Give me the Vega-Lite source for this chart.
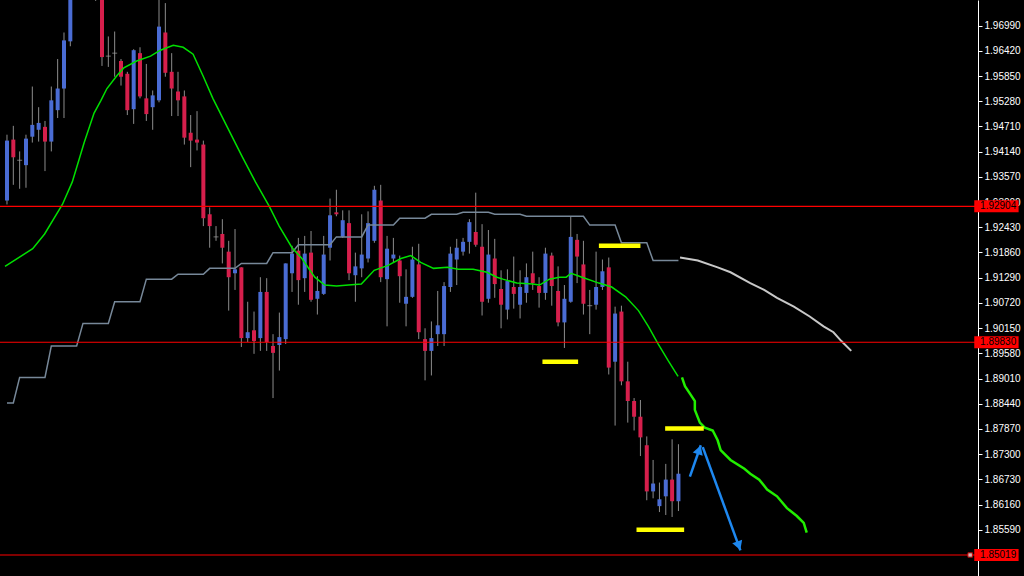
{
  "$schema": "https://vega.github.io/schema/vega-lite/v6.json",
  "width": 978,
  "height": 576,
  "autosize": {"type": "none"},
  "padding": {"left": 0, "top": 0, "right": 46, "bottom": 0},
  "background": "#000000",
  "config": {
    "view": {"stroke": null},
    "axisY": {"labelOverlap": false, "tickCount": 40}
  },
  "datasets": {
    "candles": [
      {"i":0,"o":1.93035,"h":1.94524,"l":1.92946,"c":1.94390,"s":1.88457},
      {"i":1,"o":1.94413,"h":1.94724,"l":1.93390,"c":1.94013,"s":1.88457},
      {"i":2,"o":1.93946,"h":1.94146,"l":1.93301,"c":1.93946,"s":1.89035},
      {"i":3,"o":1.93835,"h":1.94524,"l":1.93324,"c":1.94435,"s":1.89035},
      {"i":4,"o":1.94479,"h":1.95613,"l":1.94346,"c":1.94746,"s":1.89035},
      {"i":5,"o":1.94635,"h":1.95146,"l":1.94368,"c":1.94790,"s":1.89035},
      {"i":6,"o":1.94701,"h":1.94835,"l":1.93701,"c":1.94368,"s":1.89035},
      {"i":7,"o":1.94368,"h":1.95613,"l":1.94146,"c":1.95301,"s":1.89746},
      {"i":8,"o":1.95079,"h":1.96235,"l":1.94901,"c":1.95568,"s":1.89746},
      {"i":9,"o":1.95568,"h":1.96835,"l":1.94901,"c":1.96657,"s":1.89746},
      {"i":10,"o":1.96635,"h":1.98000,"l":1.96524,"c":1.97800,"s":1.89746},
      {"i":11,"o":1.97800,"h":1.98350,"l":1.97600,"c":1.98200,"s":1.89746},
      {"i":12,"o":1.98200,"h":1.98500,"l":1.97700,"c":1.97900,"s":1.90257},
      {"i":13,"o":1.97900,"h":1.98300,"l":1.97650,"c":1.98100,"s":1.90257},
      {"i":14,"o":1.98100,"h":1.98250,"l":1.97550,"c":1.97700,"s":1.90257},
      {"i":15,"o":1.97700,"h":1.97900,"l":1.96079,"c":1.96279,"s":1.90257},
      {"i":16,"o":1.96301,"h":1.96746,"l":1.96057,"c":1.96301,"s":1.90257},
      {"i":17,"o":1.96368,"h":1.96857,"l":1.95835,"c":1.96368,"s":1.90746},
      {"i":18,"o":1.96190,"h":1.96235,"l":1.95635,"c":1.95835,"s":1.90746},
      {"i":19,"o":1.95901,"h":1.95946,"l":1.94968,"c":1.95079,"s":1.90746},
      {"i":20,"o":1.95101,"h":1.96457,"l":1.94768,"c":1.96435,"s":1.90746},
      {"i":21,"o":1.96368,"h":1.96501,"l":1.95346,"c":1.95390,"s":1.90746},
      {"i":22,"o":1.95346,"h":1.96124,"l":1.94835,"c":1.94990,"s":1.91257},
      {"i":23,"o":1.95146,"h":1.95524,"l":1.94635,"c":1.95413,"s":1.91257},
      {"i":24,"o":1.95301,"h":1.97600,"l":1.95257,"c":1.96968,"s":1.91257},
      {"i":25,"o":1.96835,"h":1.97500,"l":1.95835,"c":1.95924,"s":1.91257},
      {"i":26,"o":1.95946,"h":1.96368,"l":1.94946,"c":1.95568,"s":1.91257},
      {"i":27,"o":1.95501,"h":1.95946,"l":1.94946,"c":1.95301,"s":1.91368},
      {"i":28,"o":1.95390,"h":1.95524,"l":1.94301,"c":1.94457,"s":1.91368},
      {"i":29,"o":1.94568,"h":1.94968,"l":1.93790,"c":1.94390,"s":1.91368},
      {"i":30,"o":1.94413,"h":1.95057,"l":1.94168,"c":1.94346,"s":1.91368},
      {"i":31,"o":1.94301,"h":1.94390,"l":1.92457,"c":1.92635,"s":1.91368},
      {"i":32,"o":1.92724,"h":1.92879,"l":1.91968,"c":1.92457,"s":1.91501},
      {"i":33,"o":1.92213,"h":1.92457,"l":1.92124,"c":1.92213,"s":1.91501},
      {"i":34,"o":1.92279,"h":1.92613,"l":1.91613,"c":1.91968,"s":1.91501},
      {"i":35,"o":1.91879,"h":1.92124,"l":1.90546,"c":1.91301,"s":1.91501},
      {"i":36,"o":1.91390,"h":1.92390,"l":1.91013,"c":1.91479,"s":1.91501},
      {"i":37,"o":1.91524,"h":1.91524,"l":1.89724,"c":1.89924,"s":1.91613},
      {"i":38,"o":1.89924,"h":1.90746,"l":1.89835,"c":1.90057,"s":1.91613},
      {"i":39,"o":1.90101,"h":1.90524,"l":1.89568,"c":1.89857,"s":1.91613},
      {"i":40,"o":1.89924,"h":1.91301,"l":1.89635,"c":1.90968,"s":1.91613},
      {"i":41,"o":1.90968,"h":1.91279,"l":1.89635,"c":1.89835,"s":1.91613},
      {"i":42,"o":1.89746,"h":1.90013,"l":1.88568,"c":1.89590,"s":1.91857},
      {"i":43,"o":1.89768,"h":1.90501,"l":1.89190,"c":1.89946,"s":1.91857},
      {"i":44,"o":1.89901,"h":1.91613,"l":1.89790,"c":1.91613,"s":1.91857},
      {"i":45,"o":1.91390,"h":1.92013,"l":1.90968,"c":1.91835,"s":1.91857},
      {"i":46,"o":1.91901,"h":1.92190,"l":1.90679,"c":1.91235,"s":1.92035},
      {"i":47,"o":1.91279,"h":1.92235,"l":1.90968,"c":1.91835,"s":1.92035},
      {"i":48,"o":1.91857,"h":1.92346,"l":1.90746,"c":1.90790,"s":1.92035},
      {"i":49,"o":1.90813,"h":1.91324,"l":1.90457,"c":1.90990,"s":1.92035},
      {"i":50,"o":1.90924,"h":1.92235,"l":1.90901,"c":1.91813,"s":1.92035},
      {"i":51,"o":1.91968,"h":1.93079,"l":1.91679,"c":1.92701,"s":1.92035},
      {"i":52,"o":1.92768,"h":1.93279,"l":1.92679,"c":1.92724,"s":1.92213},
      {"i":53,"o":1.92213,"h":1.92813,"l":1.92190,"c":1.92590,"s":1.92213},
      {"i":54,"o":1.92524,"h":1.92813,"l":1.91235,"c":1.91390,"s":1.92213},
      {"i":55,"o":1.91346,"h":1.91857,"l":1.90746,"c":1.91546,"s":1.92213},
      {"i":56,"o":1.91501,"h":1.92724,"l":1.91301,"c":1.91813,"s":1.92213},
      {"i":57,"o":1.91724,"h":1.92790,"l":1.91635,"c":1.92524,"s":1.92479},
      {"i":58,"o":1.92124,"h":1.93368,"l":1.92079,"c":1.93279,"s":1.92479},
      {"i":59,"o":1.93035,"h":1.93390,"l":1.91190,"c":1.91301,"s":1.92479},
      {"i":60,"o":1.91257,"h":1.92235,"l":1.90190,"c":1.91946,"s":1.92479},
      {"i":61,"o":1.91724,"h":1.92190,"l":1.91635,"c":1.91813,"s":1.92479},
      {"i":62,"o":1.91679,"h":1.91790,"l":1.90724,"c":1.91324,"s":1.92635},
      {"i":63,"o":1.90701,"h":1.91479,"l":1.90190,"c":1.90857,"s":1.92635},
      {"i":64,"o":1.90857,"h":1.91990,"l":1.90835,"c":1.91701,"s":1.92635},
      {"i":65,"o":1.91590,"h":1.92057,"l":1.89901,"c":1.90057,"s":1.92635},
      {"i":66,"o":1.89901,"h":1.90146,"l":1.88968,"c":1.89635,"s":1.92635},
      {"i":67,"o":1.89635,"h":1.90301,"l":1.89079,"c":1.89924,"s":1.92724},
      {"i":68,"o":1.90013,"h":1.90990,"l":1.89746,"c":1.90213,"s":1.92724},
      {"i":69,"o":1.90013,"h":1.91190,"l":1.89746,"c":1.91101,"s":1.92724},
      {"i":70,"o":1.91079,"h":1.91990,"l":1.90968,"c":1.91835,"s":1.92724},
      {"i":71,"o":1.91701,"h":1.92168,"l":1.91124,"c":1.91968,"s":1.92724},
      {"i":72,"o":1.91879,"h":1.92190,"l":1.91790,"c":1.92101,"s":1.92768},
      {"i":73,"o":1.92101,"h":1.92613,"l":1.91835,"c":1.92546,"s":1.92768},
      {"i":74,"o":1.92324,"h":1.93213,"l":1.91990,"c":1.92035,"s":1.92768},
      {"i":75,"o":1.91990,"h":1.92501,"l":1.90435,"c":1.90746,"s":1.92768},
      {"i":76,"o":1.90813,"h":1.92368,"l":1.90724,"c":1.91813,"s":1.92768},
      {"i":77,"o":1.91724,"h":1.92168,"l":1.90835,"c":1.91146,"s":1.92724},
      {"i":78,"o":1.91035,"h":1.91457,"l":1.90146,"c":1.90679,"s":1.92724},
      {"i":79,"o":1.90568,"h":1.91479,"l":1.90346,"c":1.91213,"s":1.92724},
      {"i":80,"o":1.91079,"h":1.91768,"l":1.90590,"c":1.90924,"s":1.92724},
      {"i":81,"o":1.90679,"h":1.91457,"l":1.90368,"c":1.91079,"s":1.92724},
      {"i":82,"o":1.90946,"h":1.91613,"l":1.90724,"c":1.91301,"s":1.92679},
      {"i":83,"o":1.91390,"h":1.91879,"l":1.91013,"c":1.91168,"s":1.92679},
      {"i":84,"o":1.91101,"h":1.91301,"l":1.90613,"c":1.90946,"s":1.92679},
      {"i":85,"o":1.90946,"h":1.91968,"l":1.90790,"c":1.91835,"s":1.92679},
      {"i":86,"o":1.91790,"h":1.91857,"l":1.90657,"c":1.91101,"s":1.92679},
      {"i":87,"o":1.90990,"h":1.91546,"l":1.90190,"c":1.90279,"s":1.92679},
      {"i":88,"o":1.90279,"h":1.91124,"l":1.89701,"c":1.90813,"s":1.92679},
      {"i":89,"o":1.90746,"h":1.92679,"l":1.90724,"c":1.92213,"s":1.92679},
      {"i":90,"o":1.92146,"h":1.92279,"l":1.91168,"c":1.91768,"s":1.92679},
      {"i":91,"o":1.91590,"h":1.92124,"l":1.90457,"c":1.90701,"s":1.92679},
      {"i":92,"o":1.90657,"h":1.91013,"l":1.90013,"c":1.90657,"s":1.92479},
      {"i":93,"o":1.90679,"h":1.91879,"l":1.90568,"c":1.91079,"s":1.92479},
      {"i":94,"o":1.91079,"h":1.91701,"l":1.91013,"c":1.91435,"s":1.92479},
      {"i":95,"o":1.91524,"h":1.91746,"l":1.89101,"c":1.89257,"s":1.92479},
      {"i":96,"o":1.89390,"h":1.90635,"l":1.87946,"c":1.90479,"s":1.92479},
      {"i":97,"o":1.90524,"h":1.90657,"l":1.88857,"c":1.88946,"s":1.92079},
      {"i":98,"o":1.88946,"h":1.89390,"l":1.88013,"c":1.88501,"s":1.92079},
      {"i":99,"o":1.88501,"h":1.88568,"l":1.87835,"c":1.88146,"s":1.92079},
      {"i":100,"o":1.88146,"h":1.88524,"l":1.87257,"c":1.87679,"s":1.92079},
      {"i":101,"o":1.87501,"h":1.87701,"l":1.86257,"c":1.86457,"s":1.92079},
      {"i":102,"o":1.86457,"h":1.87168,"l":1.86301,"c":1.86635,"s":1.91679},
      {"i":103,"o":1.86124,"h":1.86657,"l":1.85990,"c":1.86279,"s":1.91679},
      {"i":104,"o":1.86346,"h":1.87079,"l":1.85924,"c":1.86724,"s":1.91679},
      {"i":105,"o":1.86724,"h":1.87635,"l":1.85879,"c":1.86235,"s":1.91679},
      {"i":106,"o":1.86235,"h":1.87524,"l":1.86013,"c":1.86857,"s":1.91679}
    ],
    "ma": [
      {"i":-0.31,"v":1.91546},{"i":4.06,"v":1.91946},{"i":5.94,"v":1.92279},{"i":8.75,"v":1.92946},
      {"i":10.31,"v":1.93457},{"i":12.19,"v":1.94346},{"i":13.75,"v":1.95013},{"i":14.84,"v":1.95301},
      {"i":15.78,"v":1.95568},{"i":17.34,"v":1.95857},{"i":18.44,"v":1.96035},{"i":20.47,"v":1.96190},
      {"i":22.66,"v":1.96301},{"i":24.22,"v":1.96435},{"i":26.25,"v":1.96546},{"i":27.81,"v":1.96501},
      {"i":29.38,"v":1.96346},{"i":30.94,"v":1.95857},{"i":32.5,"v":1.95346},{"i":34.84,"v":1.94679},
      {"i":37.19,"v":1.94013},{"i":39.22,"v":1.93457},{"i":41.41,"v":1.92901},{"i":42.97,"v":1.92457},
      {"i":45.0,"v":1.91968},{"i":46.56,"v":1.91724},{"i":48.59,"v":1.91301},{"i":50.16,"v":1.91124},
      {"i":52.03,"v":1.91101},{"i":53.91,"v":1.91124},{"i":55.94,"v":1.91146},{"i":57.97,"v":1.91457},
      {"i":60.16,"v":1.91568},{"i":62.19,"v":1.91724},{"i":63.75,"v":1.91790},{"i":65.31,"v":1.91635},
      {"i":67.34,"v":1.91501},{"i":69.53,"v":1.91524},{"i":71.25,"v":1.91479},{"i":73.59,"v":1.91479},
      {"i":75.78,"v":1.91413},{"i":77.34,"v":1.91301},{"i":78.28,"v":1.91257},{"i":80.47,"v":1.91168},
      {"i":82.97,"v":1.91146},{"i":84.06,"v":1.91124},{"i":85.63,"v":1.91257},{"i":87.19,"v":1.91301},
      {"i":88.28,"v":1.91301},{"i":89.06,"v":1.91390},{"i":90.78,"v":1.91301},{"i":93.44,"v":1.91168},
      {"i":95.47,"v":1.91079},{"i":97.66,"v":1.90857},{"i":99.69,"v":1.90546},{"i":101.25,"v":1.90190},
      {"i":102.81,"v":1.89790},{"i":104.38,"v":1.89413},{"i":105.94,"v":1.89057}
    ],
    "maForecast": [
      {"i":106.56,"v":1.89035},{"i":107.03,"v":1.88835},{"i":107.97,"v":1.88635},{"i":108.59,"v":1.88501},
      {"i":108.59,"v":1.88301},{"i":109.38,"v":1.88013},{"i":110.16,"v":1.87901},{"i":111.41,"v":1.87835},
      {"i":112.19,"v":1.87613},{"i":112.66,"v":1.87390},{"i":114.22,"v":1.87168},{"i":116.41,"v":1.86968},
      {"i":117.34,"v":1.86857},{"i":118.75,"v":1.86724},{"i":120.0,"v":1.86501},{"i":121.56,"v":1.86346},
      {"i":123.13,"v":1.86079},{"i":124.69,"v":1.85901},{"i":125.78,"v":1.85746},{"i":126.25,"v":1.85524}
    ],
    "stopForecast": [
      {"i":106.25,"v":1.91746},{"i":109.06,"v":1.91679},{"i":112.19,"v":1.91524},{"i":114.22,"v":1.91413},
      {"i":117.34,"v":1.91168},{"i":119.53,"v":1.91013},{"i":121.56,"v":1.90835},{"i":124.22,"v":1.90635},
      {"i":126.72,"v":1.90413},{"i":128.91,"v":1.90190},{"i":130.47,"v":1.90057},{"i":131.72,"v":1.89857},
      {"i":133.28,"v":1.89635}
    ],
    "levels": [
      {"price":1.92904,"label":"1.92904"},
      {"price":1.89830,"label":"1.89830"},
      {"price":1.85019,"label":"1.85019"}
    ],
    "zones": [
      {"a":93.44,"b":100.0,"price":1.92013},
      {"a":84.53,"b":90.16,"price":1.89390},
      {"a":103.9,"b":110.0,"price":1.87879},
      {"a":99.38,"b":106.9,"price":1.85590}
    ],
    "arrows": [
      {"a":107.81,"pa":1.86790,"b":109.53,"pb":1.87501,"hx":109.28,"hy":1.87397,"ang":19},
      {"a":109.84,"pa":1.87457,"b":115.78,"pb":1.85124,"hx":115.52,"hy":1.85228,"ang":160}
    ]
  },
  "layer": [
    {
      "data": {"name": "candles"},
      "mark": {"type": "rule", "color": "#8c8c8c", "strokeWidth": 1, "clip": true},
      "encoding": {
        "x": {"field": "i", "type": "quantitative", "scale": {"domain": [-0.3125, 152.5], "nice": false, "zero": false}, "axis": null},
        "y": {"field": "l", "type": "quantitative", "scale": {"domain": [1.84657, 1.97457], "nice": false, "zero": false},
          "axis": {
            "orient": "right", "title": null, "grid": false, "tickCount": 40,
            "values": [1.9699, 1.9642, 1.9585, 1.9528, 1.9471, 1.9414, 1.9357, 1.93, 1.9243, 1.9186, 1.9129, 1.9072, 1.9015, 1.8958, 1.8901, 1.8844, 1.8787, 1.873, 1.8673, 1.8616, 1.8559],
            "format": ".5f", "labelColor": "#ffffff", "labelFont": "Liberation Sans", "labelFontSize": 10,
            "labelOverlap": false, "labelBound": false, "labelFlush": false, "labelPadding": 2,
            "tickColor": "#ffffff", "tickSize": 4, "domainColor": "#ffffff"
          }},
        "y2": {"field": "h"}
      }
    },
    {
      "data": {"name": "candles"},
      "mark": {"type": "bar", "size": 4, "clip": true},
      "encoding": {
        "x": {"field": "i", "type": "quantitative"},
        "y": {"field": "o", "type": "quantitative"},
        "y2": {"field": "c"},
        "color": {"condition": {"test": "datum.c > datum.o", "value": "#4a6cd4"}, "value": "#d61f4c"}
      }
    },
    {
      "data": {"name": "candles"},
      "transform": [{"filter": "datum.o == datum.c"}],
      "mark": {"type": "tick", "orient": "horizontal", "size": 5, "thickness": 1, "color": "#a0a0a0", "clip": true},
      "encoding": {
        "x": {"field": "i", "type": "quantitative"},
        "y": {"field": "o", "type": "quantitative"}
      }
    },
    {
      "data": {"name": "candles"},
      "mark": {"type": "line", "color": "#778899", "strokeWidth": 1.5, "clip": true},
      "encoding": {
        "x": {"field": "i", "type": "quantitative"},
        "y": {"field": "s", "type": "quantitative"}
      }
    },
    {
      "data": {"name": "stopForecast"},
      "mark": {"type": "line", "color": "#c8c8c8", "strokeWidth": 2, "clip": true},
      "encoding": {
        "x": {"field": "i", "type": "quantitative"},
        "y": {"field": "v", "type": "quantitative"}
      }
    },
    {
      "data": {"name": "ma"},
      "mark": {"type": "line", "color": "#00e000", "strokeWidth": 1.5, "clip": true},
      "encoding": {
        "x": {"field": "i", "type": "quantitative"},
        "y": {"field": "v", "type": "quantitative"}
      }
    },
    {
      "data": {"name": "maForecast"},
      "mark": {"type": "line", "color": "#22ee00", "strokeWidth": 2.5, "clip": true},
      "encoding": {
        "x": {"field": "i", "type": "quantitative"},
        "y": {"field": "v", "type": "quantitative"}
      }
    },
    {
      "data": {"name": "levels"},
      "mark": {"type": "rule", "color": "#ff0000", "strokeWidth": 1.2},
      "encoding": {
        "y": {"field": "price", "type": "quantitative"}
      }
    },
    {
      "data": {"name": "zones"},
      "mark": {"type": "rule", "color": "#ffff00", "strokeWidth": 4.5},
      "encoding": {
        "x": {"field": "a", "type": "quantitative"},
        "x2": {"field": "b"},
        "y": {"field": "price", "type": "quantitative"}
      }
    },
    {
      "data": {"name": "arrows"},
      "mark": {"type": "rule", "color": "#1e88f0", "strokeWidth": 2.5},
      "encoding": {
        "x": {"field": "a", "type": "quantitative"},
        "x2": {"field": "b"},
        "y": {"field": "pa", "type": "quantitative"},
        "y2": {"field": "pb"}
      }
    },
    {
      "data": {"name": "arrows"},
      "mark": {"type": "point", "shape": "triangle-up", "filled": true, "opacity": 1, "color": "#1e88f0", "size": 110},
      "encoding": {
        "x": {"field": "hx", "type": "quantitative"},
        "y": {"field": "hy", "type": "quantitative"},
        "angle": {"field": "ang", "type": "quantitative", "scale": null}
      }
    },
    {
      "data": {"name": "levels"},
      "mark": {"type": "bar", "color": "#ff0000", "size": 12, "orient": "horizontal", "clip": false},
      "encoding": {
        "x": {"datum": 152.7, "type": "quantitative"},
        "x2": {"datum": 159.7},
        "y": {"field": "price", "type": "quantitative"}
      }
    },
    {
      "data": {"name": "levels"},
      "mark": {"type": "text", "align": "left", "baseline": "middle", "font": "Liberation Sans", "fontSize": 10, "color": "#000000", "dx": 2},
      "encoding": {
        "x": {"datum": 153.3, "type": "quantitative"},
        "y": {"field": "price", "type": "quantitative"},
        "text": {"field": "label"}
      }
    },
    {
      "data": {"values": [{"price": 1.85019}]},
      "mark": {"type": "point", "shape": "square", "filled": true, "color": "#ffffff", "size": 20, "stroke": "#ff0000", "strokeWidth": 1},
      "encoding": {
        "x": {"datum": 152.05, "type": "quantitative"},
        "y": {"field": "price", "type": "quantitative"}
      }
    }
  ]
}
